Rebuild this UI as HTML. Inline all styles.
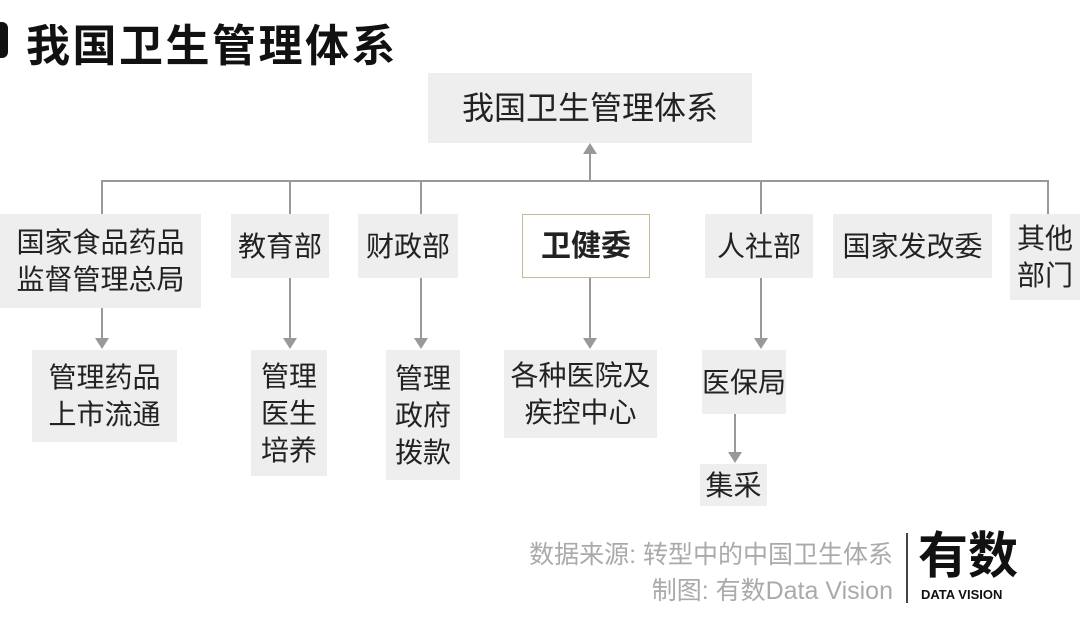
<!DOCTYPE html>
<html><head><meta charset="utf-8"><style>
body{margin:0;width:1080px;height:622px;background:#fff;position:relative;overflow:hidden;font-family:"Liberation Sans","Noto Sans CJK SC",sans-serif;color:#222}
.b{position:absolute;background:#eeeeee;display:flex;align-items:center;justify-content:center;text-align:center;font-size:28px;line-height:37px;color:#222}
.l{position:absolute;background:#999}
.ad{position:absolute;width:0;height:0;border-left:7px solid transparent;border-right:7px solid transparent;border-top:11px solid #999}
.t{position:absolute;white-space:nowrap}
</style></head><body>
<div style="position:absolute;left:0;top:22px;width:8px;height:36px;background:#111;border-radius:0 6px 6px 0"></div>
<div class="t" style="left:26px;top:10px;font-size:44px;font-weight:bold;color:#111;letter-spacing:2.5px">我国卫生管理体系</div>

<div class="b" style="left:428px;top:73px;width:324px;height:70px;font-size:32px">我国卫生管理体系</div>
<div class="l" style="left:589px;top:150px;width:2px;height:31px"></div>
<div class="ad" style="left:583px;top:143px;border-top:none;border-bottom:11px solid #999"></div>
<div class="l" style="left:101px;top:180px;width:948px;height:2px"></div>
<div class="l" style="left:101px;top:180px;width:2px;height:34px"></div>
<div class="l" style="left:289px;top:180px;width:2px;height:34px"></div>
<div class="l" style="left:420px;top:180px;width:2px;height:34px"></div>
<div class="l" style="left:760px;top:180px;width:2px;height:34px"></div>
<div class="l" style="left:1047px;top:180px;width:2px;height:34px"></div>

<div class="b" style="left:0;top:214px;width:201px;height:94px">国家食品药品<br>监督管理总局</div>
<div class="b" style="left:231px;top:214px;width:98px;height:64px">教育部</div>
<div class="b" style="left:358px;top:214px;width:100px;height:64px">财政部</div>
<div class="b" style="left:522px;top:214px;width:126px;height:62px;background:#fff;border:1px solid #c8b89a;font-weight:bold;font-size:30px">卫健委</div>
<div class="b" style="left:705px;top:214px;width:108px;height:64px">人社部</div>
<div class="b" style="left:833px;top:214px;width:159px;height:64px">国家发改委</div>
<div class="b" style="left:1010px;top:214px;width:70px;height:86px">其他<br>部门</div>

<div class="l" style="left:101px;top:308px;width:2px;height:32px"></div><div class="ad" style="left:95px;top:338px"></div>
<div class="l" style="left:289px;top:278px;width:2px;height:62px"></div><div class="ad" style="left:283px;top:338px"></div>
<div class="l" style="left:420px;top:278px;width:2px;height:62px"></div><div class="ad" style="left:414px;top:338px"></div>
<div class="l" style="left:589px;top:278px;width:2px;height:62px"></div><div class="ad" style="left:583px;top:338px"></div>
<div class="l" style="left:760px;top:278px;width:2px;height:62px"></div><div class="ad" style="left:754px;top:338px"></div>

<div class="b" style="left:32px;top:350px;width:145px;height:92px">管理药品<br>上市流通</div>
<div class="b" style="left:251px;top:350px;width:76px;height:126px">管理<br>医生<br>培养</div>
<div class="b" style="left:386px;top:350px;width:74px;height:130px">管理<br>政府<br>拨款</div>
<div class="b" style="left:504px;top:350px;width:153px;height:88px">各种医院及<br>疾控中心</div>
<div class="b" style="left:702px;top:350px;width:84px;height:64px">医保局</div>
<div class="l" style="left:734px;top:414px;width:2px;height:40px"></div><div class="ad" style="left:728px;top:452px"></div>
<div class="b" style="left:700px;top:464px;width:67px;height:42px">集采</div>

<div class="t" style="right:187px;top:535px;font-size:25px;color:#aaa">数据来源: 转型中的中国卫生体系</div>
<div class="t" style="right:187px;top:571px;font-size:25px;color:#aaa">制图: 有数Data Vision</div>
<div class="l" style="left:906px;top:533px;width:2px;height:70px;background:#444"></div>
<div class="t" style="left:918px;top:526px;font-size:50px;font-weight:bold;color:#111;line-height:60px">有数</div>
<div class="t" style="left:921px;top:587px;font-size:13px;font-weight:bold;color:#111">DATA VISION</div>
</body></html>
